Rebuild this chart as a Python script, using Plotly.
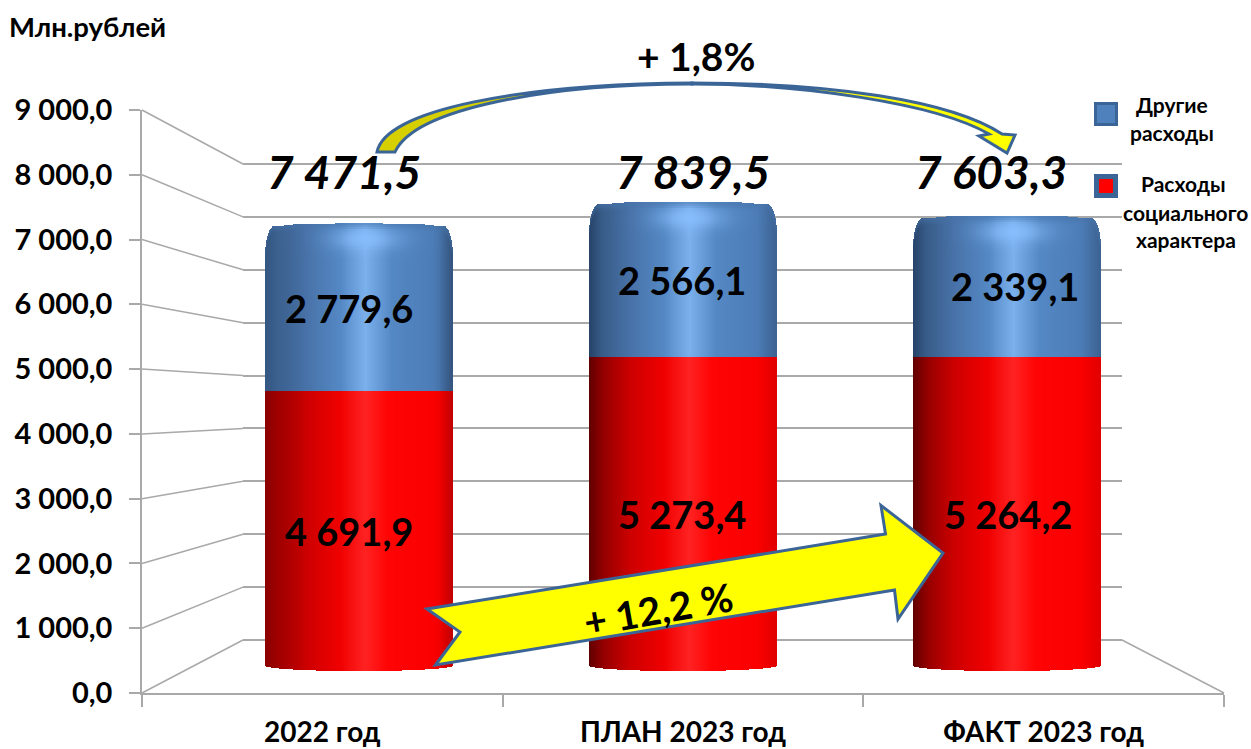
import math
import plotly.graph_objects as go

# ---------- data ----------
categories = ["2022 год", "ПЛАН 2023 год", "ФАКТ 2023 год"]
social = [4691.9, 5273.4, 5264.2]
other = [2779.6, 2566.1, 2339.1]
totals = [7471.5, 7839.5, 7603.3]
y_ticks = [0, 1000, 2000, 3000, 4000, 5000, 6000, 7000, 8000, 9000]
legend_other = ["Другие", "расходы"]
legend_social = ["Расходы", "социального", "характера"]
unit_label = "Млн.рублей"
growth_total = "+ 1,8%"
growth_social = "+ 12,2 %"

# ---------- geometry of the pseudo-3D frame (pixels) ----------
W, H = 1251, 749
FONT = "Lato, 'Open Sans', sans-serif"
GRID = "#a9a9a9"
EDGE = "#3b6597"
FRONT_X0, FRONT_X1, FRONT_Y0, FRONT_Y9 = 142, 1224, 693, 110
BACK_X0, BACK_X1, BACK_Y0, BACK_Y9 = 243, 1122, 640, 164
BACK_PAD = 20                         # value units kept beyond 0 and 9000 so edge gridlines draw
BAR_ZERO, BAR_PX = 667, 0.0588        # middle plane: pixel of zero, px per unit
BAR_X0, BAR_X1 = 197, 1169
BAR_WIDTH = 0.58
SLICES = 188
Y3_RANGE = [-500, 9500]


def front_y(v):
    return FRONT_Y0 - v * (FRONT_Y0 - FRONT_Y9) / 9000


def back_y(v):
    return BACK_Y0 - v * (BACK_Y0 - BACK_Y9) / 9000


def num(v):
    return f"{v:,.1f}".replace(",", " ").replace(".", ",")


def mix(a, b, k):
    return tuple(a[i] + (b[i] - a[i]) * k for i in range(3))


def ramp(stops, t):
    for (t0, c0), (t1, c1) in zip(stops, stops[1:]):
        if t <= t1:
            return mix(c0, c1, (t - t0) / (t1 - t0))
    return stops[-1][1]


def css(c):
    return "rgb(%d,%d,%d)" % tuple(round(x) for x in c)


RED_STOPS = [(0, (96, 0, 0)), (.08, (150, 0, 0)), (.22, (205, 0, 0)), (.4, (240, 0, 0)),
             (.54, (255, 34, 34)), (.66, (255, 4, 4)), (.9, (250, 0, 0)), (1, (225, 0, 0))]
BLUE_STOPS = [(0, (38, 66, 104)), (.07, (56, 92, 136)), (.22, (72, 114, 168)), (.4, (84, 136, 196)),
              (.54, (122, 176, 236)), (.68, (84, 136, 196)), (.9, (76, 124, 182)), (1, (60, 98, 146))]
# lighting differs by column: darker left edge on columns 2/3, darker right edge on column 1
LEFT_LIFT = [0.45, 0.0, 0.0]
RIGHT_DARK = [0.45, 0.0, 0.0]


def shade(stops, t, i):
    c = ramp(stops, t)
    if t < .2:
        c = mix(c, ramp(stops, .2), LEFT_LIFT[i] * (1 - t / .2))
    if t > .93:
        c = mix(c, (c[0] * .7, c[1] * .7, c[2] * .7), RIGHT_DARK[i] * (t - .93) / .07)
    return c


def top_drop(u):
    """pixels the cylinder top falls below its value at |position| u in 0..1"""
    d = 3.5 * u * u
    if u > .9:
        k = min(1, (u - .9) / .1)
        d += 30 * (1 - math.sqrt(1 - k * k))
    return d


CAP_ROWS, CAP_ROW_PX = 18, 2
red = dict(x=[], y=[], base=[], color=[])
blue = dict(x=[], y=[], base=[], color=[])
cap = dict(x=[], y=[], base=[], color=[])
sw = BAR_WIDTH / SLICES
for i in range(3):
    for s in range(SLICES):
        t = (s + .5) / SLICES
        u = abs(2 * t - 1)
        x = i - BAR_WIDTH / 2 + (s + .5) * sw
        bottom = -(5.5 * math.sqrt(1 - u * u) - 1) / BAR_PX
        red["x"].append(x)
        red["base"].append(bottom)
        red["y"].append(social[i] - bottom)
        red["color"].append(css(shade(RED_STOPS, t, i)))
        top = social[i] + other[i] + 4 / BAR_PX
        body_top = top - CAP_ROWS * CAP_ROW_PX / BAR_PX
        col = shade(BLUE_STOPS, t, i)
        blue["x"].append(x)
        blue["base"].append(social[i])
        blue["y"].append(body_top - social[i])
        blue["color"].append(css(col))
        drop = top_drop(u)
        for r in range(CAP_ROWS):
            y0 = r * CAP_ROW_PX
            y1 = y0 + CAP_ROW_PX
            if y1 <= drop:
                continue
            y0 = max(y0, drop)
            g = math.exp(-(((t - .54) / .17) ** 2) - (((y0 - 15) / 11) ** 2))
            c = mix(col, (138, 192, 255), .8 * g)
            c = mix(c, (72, 116, 170), .5 * max(0, 1 - (y0 - drop) / 6))
            cap["x"].append(x)
            cap["base"].append(top - y1 / BAR_PX)
            cap["y"].append((y1 - y0) / BAR_PX)
            cap["color"].append(css(c))

fig = go.Figure()
for part in (red, blue, cap):
    fig.add_bar(x=part["x"], y=part["y"], base=part["base"], width=sw * 1.02,
                marker=dict(color=part["color"], line_width=0),
                xaxis="x3", yaxis="y3", showlegend=False, hoverinfo="skip")

# empty traces so every axis pair exists
fig.add_scatter(x=[], y=[], xaxis="x", yaxis="y", showlegend=False)
fig.add_scatter(x=[], y=[], xaxis="x2", yaxis="y2", showlegend=False)
fig.add_scatter(x=[], y=[], xaxis="x4", yaxis="y4", showlegend=False)

# ---------- frame lines joining the front axis and the back wall ----------
shapes = []
for v in y_ticks:
    shapes.append(dict(type="line", xref="x4", yref="y4", layer="below",
                       x0=FRONT_X0, y0=front_y(v), x1=BACK_X0, y1=back_y(v),
                       line=dict(color=GRID, width=1.5)))
shapes.append(dict(type="line", xref="x4", yref="y4", layer="below",
                   x0=FRONT_X1, y0=front_y(0), x1=BACK_X1, y1=back_y(0),
                   line=dict(color=GRID, width=1.5)))

# ---------- growth arrows ----------
shapes.append(dict(type="path", xref="x4", yref="y4", layer="above",
                   path="M427,609 L460,632 L435.5,665 L894.5,590 L898,619 L943,553 L881,505.5 L885.5,534 Z",
                   fillcolor="#ffff00", line=dict(color=EDGE, width=3)))
shapes.append(dict(type="path", xref="x4", yref="y4", layer="above",
                   path="M377,152 C385,110 520,84 692,83 C692,84 692,84 692,84 C550,84 415,108 395,152 Z",
                   fillcolor="#d6d000", line=dict(color=EDGE, width=3)))
shapes.append(dict(type="path", xref="x4", yref="y4", layer="above",
                   path="M692,83 C830,83 950,100 1002,134 L1015,135 L1007,153 L979,136 L989,134 C935,103 800,84 692,84 Z",
                   fillcolor="#ffff00", line=dict(color=EDGE, width=3)))

# ---------- legend keys ----------
shapes.append(dict(type="rect", xref="x4", yref="y4", layer="above", x0=1095.5, x1=1116.5, y0=103.5, y1=124.5,
                   fillcolor="#4f81bd", line=dict(color=EDGE, width=3)))
shapes.append(dict(type="rect", xref="x4", yref="y4", layer="above", x0=1096.5, x1=1115.5, y0=176.5, y1=195.5,
                   fillcolor="#ff0000", line=dict(color=EDGE, width=5)))


def label(text, x, y, size, **kw):
    style = kw.pop("style", "normal")
    return dict(text=text, x=x, y=y, xref="x4", yref="y4", showarrow=False,
                font=dict(family=FONT, size=size, color="#000", weight=700, style=style),
                xanchor=kw.pop("xanchor", "center"), yanchor="middle", **kw)


ann = []
ann.append(label(unit_label, 7, 26, 27.5, xanchor="left"))
ann.append(label(growth_total, 696, 56, 39))
ann.append(label(growth_social, 658, 609, 39, textangle=-10))
for v, x in zip(totals, (344, 693, 991)):
    ann.append(label(num(v), x, 171, 46, style="italic"))
for v, x, y in zip(other, (349, 682, 1015), (308, 280, 286)):
    ann.append(label(num(v), x, y, 38))
for v, x, y in zip(social, (349, 682, 1008), (531, 514, 514)):
    ann.append(label(num(v), x, y, 38))
for text, x, y in zip(legend_other, (1172, 1172), (104, 132)):
    ann.append(label(text, x, y, 21))
for text, x, y in zip(legend_social, (1183, 1185, 1186), (183, 212, 239)):
    ann.append(label(text, x, y, 21))


def dom(a, b):
    return [a / W, b / W]


def vdom(bottom, top):
    return [1 - bottom / H, 1 - top / H]


hidden = dict(visible=False, showgrid=False, zeroline=False, fixedrange=True)
y3_bottom = BAR_ZERO - Y3_RANGE[0] * BAR_PX
y3_top = BAR_ZERO - Y3_RANGE[1] * BAR_PX
back_px = (BACK_Y0 - BACK_Y9) / 9000 * BACK_PAD

fig.update_layout(
    width=W, height=H, margin=dict(l=0, r=0, t=0, b=0, pad=0, autoexpand=False),
    paper_bgcolor="#ffffff", plot_bgcolor="rgba(0,0,0,0)",
    barmode="overlay", bargap=0, showlegend=False,
    font=dict(family=FONT, color="#000"),
    shapes=shapes, annotations=ann,
    xaxis=dict(domain=dom(FRONT_X0, FRONT_X1), range=[0, 3], anchor="y", automargin=False,
               tickmode="array", tickvals=[0.5, 1.5, 2.5], ticktext=categories,
               ticks="", ticklabelstandoff=14,
               tickfont=dict(family=FONT, size=28, color="#000", weight=700),
               showline=True, linecolor=GRID, linewidth=1.5, showgrid=False, zeroline=False,
               minor=dict(tickmode="array", tickvals=[0, 1, 2, 3], ticks="outside",
                          ticklen=12, tickwidth=1.5, tickcolor=GRID, showgrid=False)),
    yaxis=dict(domain=vdom(FRONT_Y0, FRONT_Y9), range=[0, 9000], anchor="x", automargin=False,
               tickmode="array", tickvals=y_ticks, ticktext=[num(v) for v in y_ticks],
               ticks="outside", ticklen=11, tickwidth=1.5, tickcolor=GRID,
               ticklabelstandoff=11,
               tickfont=dict(family=FONT, size=29, color="#000", weight=700),
               showline=True, linecolor=GRID, linewidth=1.5, showgrid=False, zeroline=False),
    xaxis2=dict(domain=dom(BACK_X0, BACK_X1), range=[0, 3], anchor="y2", **hidden),
    yaxis2=dict(domain=vdom(BACK_Y0 + back_px, BACK_Y9 - back_px), range=[-BACK_PAD, 9000 + BACK_PAD], anchor="x2",
                tickmode="array", tickvals=y_ticks, showticklabels=False, ticks="",
                showgrid=True, gridcolor=GRID, gridwidth=1.5, zeroline=False, showline=False),
    xaxis3=dict(domain=dom(BAR_X0, BAR_X1), range=[-.5, 2.5], anchor="y3", **hidden),
    yaxis3=dict(domain=vdom(y3_bottom, y3_top), range=Y3_RANGE, anchor="x3", **hidden),
    xaxis4=dict(domain=[0, 1], range=[0, W], anchor="y4", **hidden),
    yaxis4=dict(domain=[0, 1], range=[H, 0], anchor="x4", **hidden),
)

fig.write_html("out.html", config=dict(displayModeBar=False),
               post_script="document.body.style.margin='0';document.documentElement.style.overflow='hidden';")
